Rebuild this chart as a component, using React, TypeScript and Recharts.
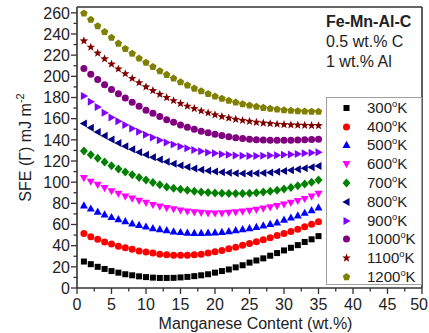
import React from 'react';
import { ScatterChart, Scatter, XAxis, YAxis, ReferenceLine } from 'recharts';

// ---------- DATA ----------
const manganeseContent = [1, 2, 3, 4, 5, 6, 7, 8, 9, 10, 11, 12, 13, 14, 15, 16, 17, 18, 19, 20, 21, 22, 23, 24, 25, 26, 27, 28, 29, 30, 31, 32, 33, 34, 35];

const sfe300K = [25, 22.5, 20, 18, 16, 14.5, 13, 12, 11, 10.3, 9.8, 9.5, 9.5, 9.6, 10, 10.5, 11.2, 12, 13, 14.5, 16, 17.5, 19.5, 21.5, 24, 26, 28, 30.5, 33, 35.5, 38, 40.5, 43.5, 46, 49];
const sfe400K = [51.5, 48.5, 46, 43.5, 41.5, 39.5, 38, 36.5, 35, 34, 33, 32, 31.5, 31, 31, 31, 31.3, 32, 33, 34.2, 35.5, 37, 38.6, 40.3, 42, 43.8, 45.6, 47.5, 49.5, 51.5, 53.5, 55.5, 57.8, 60.2, 62.7];
const sfe500K = [78, 75, 72, 69.5, 67, 65, 63, 61, 59.5, 58, 56.5, 55.5, 54.5, 53.5, 52.8, 52.3, 52, 52, 52.2, 52.5, 53, 53.7, 54.5, 55.5, 56.5, 57.7, 59, 60.5, 62, 64.5, 66.5, 68.5, 71, 73.5, 76];
const sfe600K = [104, 100.5, 97.5, 94.5, 91.5, 89, 86.5, 84.5, 82.5, 80.5, 78.5, 77, 75.5, 74.5, 73.3, 72.3, 71.5, 71, 70.6, 70.5, 70.6, 71, 71.5, 72.2, 73, 74, 75, 76.2, 77.5, 79, 80.6, 82.3, 84.2, 86.4, 89];
const sfe700K = [129.5, 126, 122.5, 119, 115.5, 112.5, 109.7, 107, 104.5, 102, 99.7, 97.5, 95.5, 94.3, 93.2, 92.3, 91.5, 90.8, 90.2, 89.8, 89.5, 89.3, 89.3, 89.4, 89.6, 90, 90.6, 91.4, 92.4, 93.6, 95, 96.5, 98.2, 100, 102];
const sfe800K = [155.5, 151.5, 147.5, 143.8, 140.3, 137, 134, 131, 128.3, 125.8, 123.5, 121.3, 119.3, 117.5, 115.8, 114.3, 113, 111.8, 110.8, 110, 109.3, 108.8, 108.4, 108.2, 108.2, 108.4, 108.7, 109.2, 109.8, 110.5, 111.3, 112.2, 113.2, 114.2, 115.3];
const sfe900K = [181.5, 176, 171, 165.5, 161, 157.5, 154, 150.7, 147.7, 144.8, 142.2, 139.7, 137.5, 135.5, 133.6, 132, 130.5, 129.2, 128.1, 127.2, 126.4, 125.8, 125.3, 125, 124.8, 124.8, 124.9, 125.1, 125.4, 125.8, 126.2, 126.7, 127.2, 127.7, 128.2];
const sfe1000K = [207.5, 202, 197, 192, 187.5, 183.5, 179.5, 175.5, 171.8, 168, 165, 162, 159, 156.5, 154, 152, 150, 148.2, 146.6, 145.2, 144, 143, 142, 141.2, 140.6, 140.1, 139.8, 139.6, 139.5, 139.5, 139.6, 139.8, 140, 140.2, 140.5];
const sfe1100K = [233.5, 227.5, 222, 216.5, 211.5, 207, 202.5, 198, 194, 190, 186.5, 183, 180, 177, 174.3, 171.8, 169.5, 167.3, 165.4, 163.6, 162, 160.6, 159.4, 158.3, 157.4, 156.6, 155.9, 155.3, 154.8, 154.4, 154.1, 153.9, 153.7, 153.5, 153.4];
const sfe1200K = [259.5, 253.5, 247.5, 242, 236.5, 231, 226, 221.5, 217, 213, 209, 205, 201.5, 198, 194.5, 191.5, 188.5, 186, 183.5, 181, 179, 177, 175.3, 173.8, 172.5, 171.3, 170.3, 169.4, 168.7, 168.1, 167.6, 167.2, 166.9, 166.7, 166.6];

const temperatures = ['300', '400', '500', '600', '700', '800', '900', '1000', '1100', '1200'];
const seriesValues = [sfe300K, sfe400K, sfe500K, sfe600K, sfe700K, sfe800K, sfe900K, sfe1000K, sfe1100K, sfe1200K];

const xTicks = [0, 2.5, 5, 7.5, 10, 12.5, 15, 17.5, 20, 22.5, 25, 27.5, 30, 32.5, 35, 37.5, 40, 42.5, 45, 47.5, 50];
const yTicks = [0, 10, 20, 30, 40, 50, 60, 70, 80, 90, 100, 110, 120, 130, 140, 150, 160, 170, 180, 190, 200, 210, 220, 230, 240, 250, 260];

const annotationTitle = 'Fe-Mn-Al-C';
const annotationLines = ['0.5 wt.% C', '1 wt.% Al'];

// ---------- STYLE ----------
const colors = ['#000000', '#ff0000', '#0000ff', '#ff00ff', '#008000', '#000080', '#8000ff', '#800080', '#800000', '#808000'];
const kinds = ['square', 'circle', 'up', 'down', 'diamond', 'left', 'right', 'circle', 'star', 'pentagon'];

const FONT = '"Liberation Sans", Arial, sans-serif';
const AXIS_COLOR = '#333333';
const Y_MAX = 265.5;

function polyPoints(cx: number, cy: number, n: number, rOuter: number, rInner: number | null) {
  const pts: string[] = [];
  const count = rInner == null ? n : n * 2;
  for (let i = 0; i < count; i++) {
    const r = rInner == null ? rOuter : i % 2 === 0 ? rOuter : rInner;
    const a = -Math.PI / 2 + (i * 2 * Math.PI) / count;
    pts.push(`${cx + r * Math.cos(a)},${cy + r * Math.sin(a)}`);
  }
  return pts.join(' ');
}

function Marker({ kind, cx, cy, fill }: { kind: string; cx: number; cy: number; fill: string }) {
  switch (kind) {
    case 'square':
      return <rect x={cx - 3} y={cy - 3} width={6} height={6} fill={fill} />;
    case 'circle':
      return <circle cx={cx} cy={cy} r={3.5} fill={fill} />;
    case 'up':
      return <polygon points={`${cx},${cy - 4.2} ${cx + 4},${cy + 3} ${cx - 4},${cy + 3}`} fill={fill} />;
    case 'down':
      return <polygon points={`${cx},${cy + 4.2} ${cx + 4},${cy - 3} ${cx - 4},${cy - 3}`} fill={fill} />;
    case 'left':
      return <polygon points={`${cx - 4.2},${cy} ${cx + 3},${cy - 4} ${cx + 3},${cy + 4}`} fill={fill} />;
    case 'right':
      return <polygon points={`${cx + 4.2},${cy} ${cx - 3},${cy - 4} ${cx - 3},${cy + 4}`} fill={fill} />;
    case 'diamond':
      return <polygon points={`${cx},${cy - 4.5} ${cx + 4},${cy} ${cx},${cy + 4.5} ${cx - 4},${cy}`} fill={fill} />;
    case 'star':
      return <polygon points={polyPoints(cx, cy, 5, 4.5, 1.9)} fill={fill} />;
    case 'pentagon':
      return <polygon points={polyPoints(cx, cy, 5, 3.9, null)} fill={fill} />;
    default:
      return <circle cx={cx} cy={cy} r={3.5} fill={fill} />;
  }
}

const XTick = (props: any) => {
  const { x, y, payload } = props;
  const v = payload.value as number;
  const major = v % 5 === 0;
  const isLast = v === xTicks[xTicks.length - 1];
  return (
    <g>
      <line x1={x} x2={x} y1={y} y2={y + (major ? 6 : 3.5)} stroke={AXIS_COLOR} strokeWidth={1.3} />
      {major && (
        <text
          x={isLast ? 428 : x}
          y={y + 16}
          dy="0.36em"
          textAnchor={isLast ? 'end' : 'middle'}
          fontSize={16}
          fontFamily={FONT}
          fill="#222"
        >
          {v}
        </text>
      )}
    </g>
  );
};

const YTick = (props: any) => {
  const { x, y, payload } = props;
  const v = payload.value as number;
  const major = v % 20 === 0;
  return (
    <g>
      <line x1={x} x2={x - (major ? 6 : 3.5)} y1={y} y2={y} stroke={AXIS_COLOR} strokeWidth={1.3} />
      {major && (
        <text x={x - 7} y={y} dy="0.36em" textAnchor="end" fontSize={16} fontFamily={FONT} fill="#222">
          {v}
        </text>
      )}
    </g>
  );
};

const LegendBox = () => (
  <div
    style={{
      position: 'absolute',
      left: 326,
      top: 97,
      width: 96,
      height: 188,
      boxSizing: 'border-box',
      border: '1px solid #a0a0a0',
      background: '#fff',
      paddingTop: 0.5,
      fontFamily: FONT,
      fontSize: 15,
      color: '#222',
    }}
  >
    {temperatures.map((t, i) => (
      <div key={t} style={{ display: 'flex', alignItems: 'center', height: 18.8 }}>
        <svg width={40} height={18} style={{ flex: 'none' }}>
          <Marker kind={kinds[i]} cx={19.5} cy={9} fill={colors[i]} />
        </svg>
        <span style={{ lineHeight: '18px', whiteSpace: 'nowrap' }}>
          {t}
          <sup style={{ fontSize: '0.62em', lineHeight: 0, verticalAlign: '0.65em' }}>o</sup>K
        </span>
      </div>
    ))}
  </div>
);

export default function App() {
  const data = seriesValues.map((vals) => manganeseContent.map((x, i) => ({ x, y: vals[i] })));
  return (
    <div style={{ position: 'absolute', left: 0, top: 0, width: 429, height: 333, background: '#fff' }}>
      <ScatterChart width={429} height={333} margin={{ top: 7, right: 7, bottom: 0, left: 0 }}>
        <XAxis
          type="number"
          dataKey="x"
          domain={[0, 50]}
          ticks={xTicks}
          interval={0}
          tick={<XTick />}
          tickLine={false}
          tickSize={0}
          tickMargin={0}
          height={45}
          axisLine={{ stroke: AXIS_COLOR, strokeWidth: 1.6 }}
          allowDataOverflow
          label={(p: any) => {
            const vb = p.viewBox || { x: 77, y: 288, width: 345 };
            return (
              <text x={vb.x + vb.width / 2 + 6} y={vb.y + 40.5} textAnchor="middle" fontSize={16} fontFamily={FONT} fill="#222">
                Manganese Content (wt.%)
              </text>
            );
          }}
        />
        <YAxis
          type="number"
          dataKey="y"
          domain={[0, Y_MAX]}
          ticks={yTicks}
          interval={0}
          tick={<YTick />}
          tickLine={false}
          tickSize={0}
          tickMargin={0}
          width={77}
          axisLine={{ stroke: AXIS_COLOR, strokeWidth: 1.6 }}
          allowDataOverflow
          label={(p: any) => {
            const vb = p.viewBox || { x: 0, y: 7, height: 281 };
            const cx = 25;
            const cy = vb.y + vb.height / 2;
            return (
              <text
                x={cx}
                y={cy}
                dy="0.36em"
                transform={`rotate(-90 ${cx} ${cy})`}
                textAnchor="middle"
                fontSize={16}
                fontFamily={FONT}
                fill="#222"
              >
                SFE (Γ) mJ m
                <tspan fontSize={11} dy="-7">-2</tspan>
              </text>
            );
          }}
        />
        <ReferenceLine y={Y_MAX} stroke={AXIS_COLOR} strokeWidth={1.6} ifOverflow="extendDomain" />
        <ReferenceLine x={50} stroke={AXIS_COLOR} strokeWidth={1.6} ifOverflow="extendDomain" />
        {data.map((d, i) => (
          <Scatter
            key={temperatures[i]}
            name={`${temperatures[i]}ºK`}
            data={d}
            fill={colors[i]}
            isAnimationActive={false}
            shape={(p: any) => <Marker kind={kinds[i]} cx={p.cx} cy={p.cy} fill={colors[i]} />}
          />
        ))}
      </ScatterChart>
      <LegendBox />
      <div
        style={{
          position: 'absolute',
          left: 326,
          top: 12,
          fontFamily: FONT,
          fontSize: 16,
          lineHeight: '20px',
          color: '#222',
          pointerEvents: 'none',
        }}
      >
        <div style={{ fontWeight: 'bold' }}>{annotationTitle}</div>
        {annotationLines.map((l) => (
          <div key={l}>{l}</div>
        ))}
      </div>
    </div>
  );
}
